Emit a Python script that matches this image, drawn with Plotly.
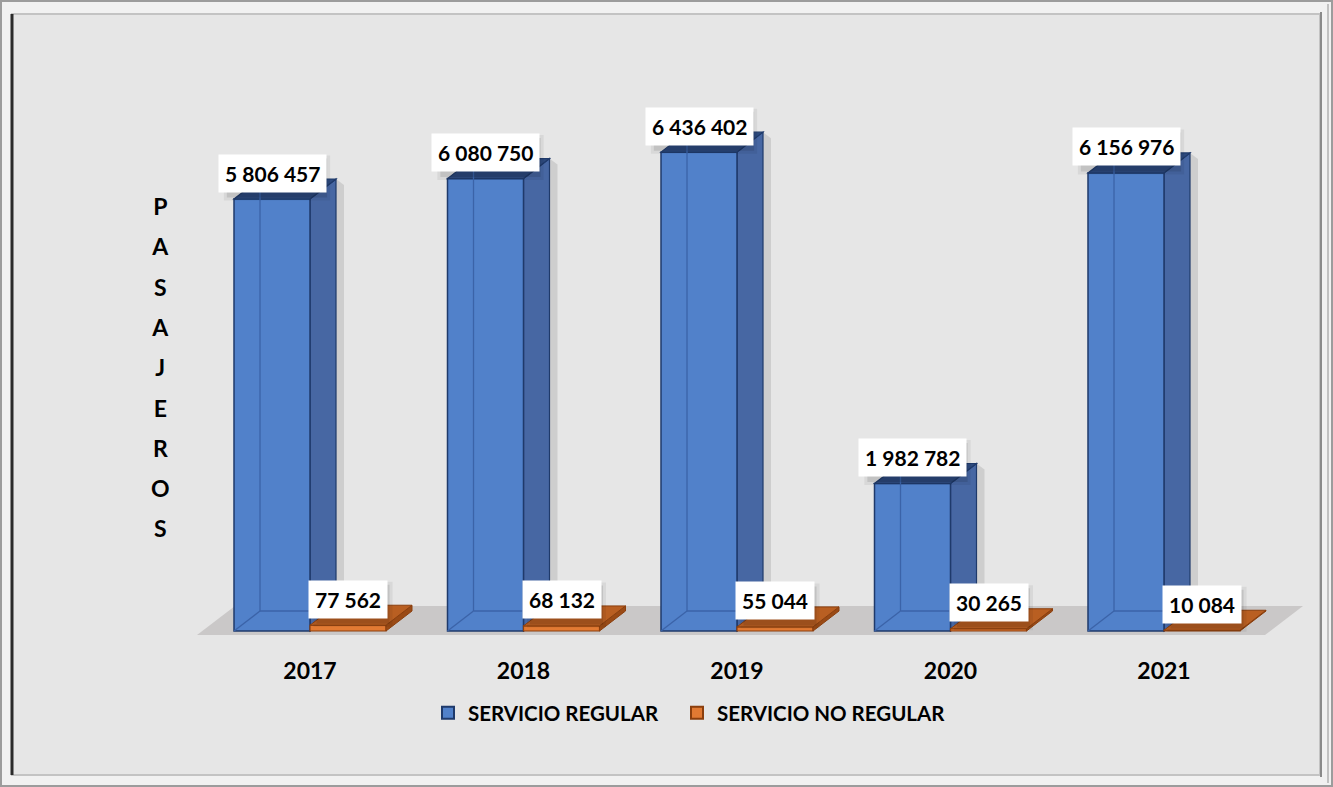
import plotly.graph_objects as go

# ---------------- data ----------------
years = ["2017", "2018", "2019", "2020", "2021"]
regular = [5806457, 6080750, 6436402, 1982782, 6156976]
no_regular = [77562, 68132, 55044, 30265, 10084]
series_names = ["SERVICIO REGULAR", "SERVICIO NO REGULAR"]
axis_title = "PASAJEROS"

# ---------------- layout geometry (pixels) ----------------
W, H = 1333, 787
ML, MR, MT, MB = 178, 15, 40, 142
PW, PH = W - ML - MR, H - MT - MB
CAT_PX = 213.5            # pixels per category
FIRST_PX = 310            # pixel of first category centre
ZERO_PX = 631             # pixel row of value 0
UPP = 1 / 7.44e-5         # data units per pixel (vertical)

x_lo = -(FIRST_PX - ML) / CAT_PX
x_hi = x_lo + PW / CAT_PX
y_lo = -(MT + PH - ZERO_PX) * UPP
y_hi = (ZERO_PX - MT) * UPP

BW = 76 / CAT_PX          # bar width in category units
DX = 26 / CAT_PX          # 3D depth offset x
DY = 20 * UPP             # 3D depth offset y


def xp(px):
    return (px - ML) / PW


def yp(py):
    return (MT + PH - py) / PH


FONT = "Lato"
BLUE_FRONT = "#5181CA"
BLUE_SIDE = "#4767A3"
BLUE_TOP = "#2D4A7E"
BLUE_EDGE = "#1F3A6B"
BLUE_INNER = "#3B63A8"
OR_FRONT = "#E27A33"
OR_TOP = "#B95F22"
OR_SIDE = "#9A4A15"
OR_EDGE = "#8B3F0E"

xs = list(range(len(years)))

fig = go.Figure()
fig.add_trace(go.Bar(
    x=xs, y=regular, width=BW, offset=-BW, name=series_names[0], legend="legend",
    marker=dict(color=BLUE_FRONT, line=dict(color=BLUE_EDGE, width=1.5)),
    hoverinfo="y",
))
fig.add_trace(go.Bar(
    x=xs, y=no_regular, width=BW, offset=0, name=series_names[1], legend="legend2",
    marker=dict(color=OR_FRONT, line=dict(color=OR_EDGE, width=1.2)),
    hoverinfo="y",
))

shapes = []
# frame (paper coordinates)
shapes.append(dict(type="rect", xref="paper", yref="paper", layer="below",
                   x0=xp(1), x1=xp(W - 1), y0=yp(1), y1=yp(H - 1),
                   line=dict(color="#9c9c9c", width=2), fillcolor="#f1f1f1"))
shapes.append(dict(type="rect", xref="paper", yref="paper", layer="below",
                   x0=xp(12), x1=xp(1320), y0=yp(14), y1=yp(775),
                   line=dict(color="#c3c3c3", width=2), fillcolor="#e6e6e6"))
shapes.append(dict(type="line", xref="paper", yref="paper", layer="below",
                   x0=xp(12), x1=xp(12), y0=yp(14), y1=yp(775),
                   line=dict(color="#2a2a2a", width=3)))
shapes.append(dict(type="line", xref="paper", yref="paper", layer="below",
                   x0=xp(1321), x1=xp(1321), y0=yp(12), y1=yp(777),
                   line=dict(color="#8a8a8a", width=2)))
shapes.append(dict(type="line", xref="paper", yref="paper", layer="below",
                   x0=xp(1328), x1=xp(1328), y0=yp(4), y1=yp(783),
                   line=dict(color="#b0b0b0", width=1.5)))

# floor
f_l, f_r = x_lo + (197 - ML) / CAT_PX, x_lo + (1265 - ML) / CAT_PX
f_dx = 38 / CAT_PX
f_b, f_t = -4 * UPP, 25 * UPP
shapes.append(dict(type="path", xref="x", yref="y", layer="below",
                   path=f"M{f_l},{f_b} L{f_r},{f_b} L{f_r + f_dx},{f_t} L{f_l + f_dx},{f_t} Z",
                   fillcolor="#cac8c8", line=dict(width=0)))

for i, (v, w) in enumerate(zip(regular, no_regular)):
    x0, x1 = i - BW, i
    # soft shadow right of the blue column
    shapes.append(dict(type="path", xref="x", yref="y", layer="below",
                       path=(f"M{x1 + DX},{DY} L{x1 + DX + 8 / CAT_PX},{DY - 6 * UPP} "
                             f"L{x1 + DX + 8 / CAT_PX},{v + DY - 6 * UPP} L{x1 + DX},{v + DY} Z"),
                       fillcolor="rgba(0,0,0,0.10)", line=dict(width=0)))
    # blue right side (below traces so orange front covers it)
    shapes.append(dict(type="path", xref="x", yref="y", layer="below",
                       path=f"M{x1},0 L{x1 + DX},{DY} L{x1 + DX},{v + DY} L{x1},{v} Z",
                       fillcolor=BLUE_SIDE, line=dict(color=BLUE_EDGE, width=1.2)))
    # blue top
    shapes.append(dict(type="path", xref="x", yref="y", layer="above",
                       path=f"M{x0},{v} L{x1},{v} L{x1 + DX},{v + DY} L{x0 + DX},{v + DY} Z",
                       fillcolor=BLUE_TOP, line=dict(color=BLUE_EDGE, width=1.2)))
    # hidden back edges seen through front
    shapes.append(dict(type="line", xref="x", yref="y", layer="above",
                       x0=x0 + DX, x1=x0 + DX, y0=DY, y1=v + DY,
                       line=dict(color=BLUE_INNER, width=1.3)))
    shapes.append(dict(type="line", xref="x", yref="y", layer="above",
                       x0=x0 + DX, x1=x1, y0=DY, y1=DY,
                       line=dict(color=BLUE_INNER, width=1.3)))
    shapes.append(dict(type="line", xref="x", yref="y", layer="above",
                       x0=x0, x1=x0 + DX, y0=0, y1=DY,
                       line=dict(color=BLUE_INNER, width=1.3)))
    # orange top and side
    ox0, ox1 = i, i + BW
    shapes.append(dict(type="path", xref="x", yref="y", layer="above",
                       path=f"M{ox1},0 L{ox1 + DX},{DY} L{ox1 + DX},{w + DY} L{ox1},{w} Z",
                       fillcolor=OR_SIDE, line=dict(color=OR_EDGE, width=1)))
    shapes.append(dict(type="path", xref="x", yref="y", layer="above",
                       path=f"M{ox0},{w} L{ox1},{w} L{ox1 + DX},{w + DY} L{ox0 + DX},{w + DY} Z",
                       fillcolor=OR_TOP, line=dict(color=OR_EDGE, width=1)))

annotations = []
LABEL_SHIFT = 26
LABEL_PAD = 6


def fmt(v):
    return f"{v:,}".replace(",", " ")


def add_label(x, v):
    txt = fmt(v)
    # estimated box size (pixels) for the drop shadow
    bw = sum(4.6 if c == " " else 11.3 for c in txt) + 2 * LABEL_PAD
    bh = 39
    for grow, alpha in ((3, 0.06), (0, 0.10)):
        shapes.append(dict(type="rect", xref="x", yref="y", layer="above",
                           xsizemode="pixel", ysizemode="pixel", xanchor=x, yanchor=v,
                           x0=-bw / 2 + 5 - grow, x1=bw / 2 + 5 + grow,
                           y0=LABEL_SHIFT - bh / 2 - 5 - grow, y1=LABEL_SHIFT + bh / 2 - 5 + grow,
                           fillcolor=f"rgba(0,0,0,{alpha})", line=dict(width=0)))
    annotations.append(dict(x=x, y=v, xref="x", yref="y", text=txt, showarrow=False,
                            yshift=LABEL_SHIFT, bgcolor="#ffffff", borderpad=LABEL_PAD,
                            font=dict(family=FONT, size=21, color="#000000", weight="bold")))


for i, (v, w) in enumerate(zip(regular, no_regular)):
    add_label(i - BW / 2, v)
    add_label(i + BW / 2, w)

# vertical axis title, letters stacked
letters = "<br>".join(f"<span style='font-size:23px'>{c}</span>" for c in axis_title)
annotations.append(dict(x=xp(160), y=yp(367), xref="paper", yref="paper", text=letters,
                        showarrow=False, xanchor="center", yanchor="middle", align="center",
                        font=dict(family=FONT, size=31, color="#000000", weight="bold")))

legend_font = dict(family=FONT, size=20.5, color="#000000", weight="bold")
fig.update_layout(
    width=W, height=H,
    margin=dict(l=ML, r=MR, t=MT, b=MB),
    paper_bgcolor="#e6e6e6",
    plot_bgcolor="rgba(0,0,0,0)",
    barmode="overlay",
    shapes=shapes,
    annotations=annotations,
    showlegend=True,
    legend=dict(orientation="h", x=xp(468 - 40), y=yp(713), xanchor="left", yanchor="middle",
                font=legend_font, bgcolor="rgba(0,0,0,0)", itemsizing="constant"),
    legend2=dict(orientation="h", x=xp(717 - 40), y=yp(713), xanchor="left", yanchor="middle",
                 font=legend_font, bgcolor="rgba(0,0,0,0)", itemsizing="constant"),
    xaxis=dict(range=[x_lo, x_hi], tickvals=xs, ticktext=years, showgrid=False,
               zeroline=False, showline=False, ticks="", ticklabelstandoff=10,
               tickfont=dict(family=FONT, size=23, color="#000000", weight="bold"),
               fixedrange=True),
    yaxis=dict(range=[y_lo, y_hi], showgrid=False, zeroline=False, showline=False,
               showticklabels=False, ticks="", fixedrange=True),
)

fig.write_html("out.html", config={"displayModeBar": False},
               post_script="document.body.style.margin='0px';")
